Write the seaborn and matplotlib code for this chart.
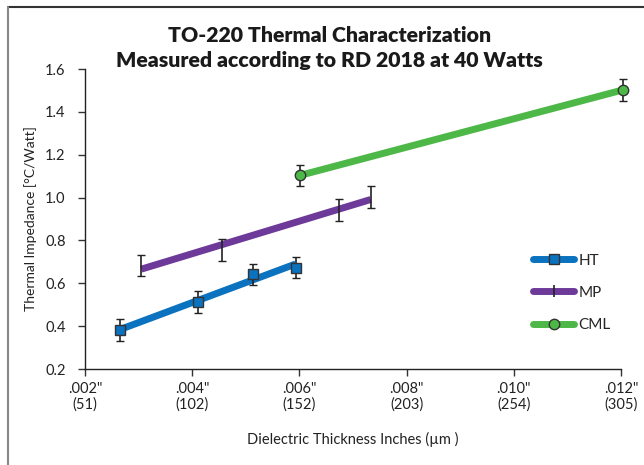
import matplotlib
matplotlib.use("Agg")
import matplotlib.pyplot as plt
import seaborn as sns
from matplotlib.lines import Line2D

# Data (measured points; lines are linear trend fits)
ht_x = [0.00266, 0.00410, 0.00513, 0.00593]
ht_y = [0.382, 0.513, 0.642, 0.673]
ht_err = [0.05, 0.05, 0.05, 0.05]

mp_x = [0.00305, 0.00456, 0.00673, 0.00733]
mp_y = [0.683, 0.755, 0.942, 1.003]
mp_err = [0.05, 0.05, 0.05, 0.05]

cml_x = [0.00602, 0.01203]
cml_y = [1.104, 1.502]
cml_err = [0.05, 0.05]

xticks = [0.002, 0.004, 0.006, 0.008, 0.010, 0.012]
xticklabels = ['.002"\n(51)', '.004"\n(102)', '.006"\n(152)', '.008"\n(203)', '.010"\n(254)', '.012"\n(305)']
yticks = [0.2, 0.4, 0.6, 0.8, 1.0, 1.2, 1.4, 1.6]
yticklabels = ['0.2', '0.4', '0.6', '0.8', '1.0', '1.2', '1.4', '1.6']

sns.set_theme(style="ticks")
plt.rcParams['font.family'] = ['Lato', 'DejaVu Sans']

fig = plt.figure(figsize=(6.44, 4.65), dpi=100)
ax = fig.add_axes([85/644, 1-369/465, (621-85)/644, 300/465])

series = [
    ("HT", ht_x, ht_y, ht_err, "#0A72BE", "s"),
    ("MP", mp_x, mp_y, mp_err, "#6E3A9A", "|"),
    ("CML", cml_x, cml_y, cml_err, "#4DB848", "o"),
]

LW = 5.0
handles = []
for name, xs, ys, es, col, mk in series:
    sns.regplot(x=xs, y=ys, ax=ax, ci=None, scatter=False, truncate=True,
                line_kws={"color": col, "linewidth": LW, "solid_capstyle": "butt",
                          "clip_on": False, "zorder": 2})
    ax.errorbar(xs, ys, yerr=es, fmt="none", ecolor="#222222", elinewidth=1.2,
                capsize=3, capthick=1.0, zorder=3, clip_on=False)
    if mk == "|":
        h = Line2D([0], [0], color=col, linewidth=LW, marker="|", markersize=9,
                   markeredgecolor="#222222", markeredgewidth=1.2,
                   solid_capstyle="round")
    else:
        ax.plot(xs, ys, linestyle="none", marker=mk, markersize=7.5, markerfacecolor=col,
                markeredgecolor="#333333", markeredgewidth=1.0, zorder=4, clip_on=False)
        h = Line2D([0], [0], color=col, linewidth=LW, marker=mk, markersize=7.5,
                   markerfacecolor=col, markeredgecolor="#333333", markeredgewidth=1.0,
                   solid_capstyle="round")
    handles.append(h)

ax.legend(handles, [s[0] for s in series], loc="upper left",
          bbox_to_anchor=(0.836, 0.385), frameon=False, fontsize=11,
          handlelength=2.7, handletextpad=0.25, labelspacing=1.2,
          borderaxespad=0, borderpad=0)

ax.set_xlim(0.002, 0.012)
ax.set_ylim(0.2, 1.6)
ax.set_xticks(xticks)
ax.set_xticklabels(xticklabels, fontsize=10.5, color="#222222")
ax.set_yticks(yticks)
ax.set_yticklabels(yticklabels, fontsize=10.5, color="#222222")
ax.tick_params(axis="both", direction="out", length=5, width=1, color="#333333")
ax.tick_params(axis="x", pad=4)
ax.tick_params(axis="y", pad=9)
for side in ["top", "right"]:
    ax.spines[side].set_visible(False)
for side in ["left", "bottom"]:
    ax.spines[side].set_color("#222222")
    ax.spines[side].set_linewidth(1.0)

ax.set_xlabel("Dielectric Thickness Inches (µm )", fontsize=10.5, color="#222222", labelpad=14)
ax.set_ylabel("Thermal Impedance [°C/Watt]", fontsize=10, color="#222222", labelpad=6)

fig.text(329.5/644, 1-36/465, "TO-220 Thermal Characterization", ha="center", va="center",
         fontsize=15.3, fontweight="heavy", color="#1a1a1a")
fig.text(329.5/644, 1-61/465, "Measured according to RD 2018 at 40 Watts", ha="center", va="center",
         fontsize=15.3, fontweight="heavy", color="#1a1a1a")

# outer frame lines
fig.add_artist(Line2D([8/644, 1.0], [1-7/465, 1-7/465], color="#333333", linewidth=1.5,
                      transform=fig.transFigure))
fig.add_artist(Line2D([8/644, 8/644], [0.0, 1-7/465], color="#888888", linewidth=1.5,
                      transform=fig.transFigure))

fig.savefig("out.png", dpi=100)
